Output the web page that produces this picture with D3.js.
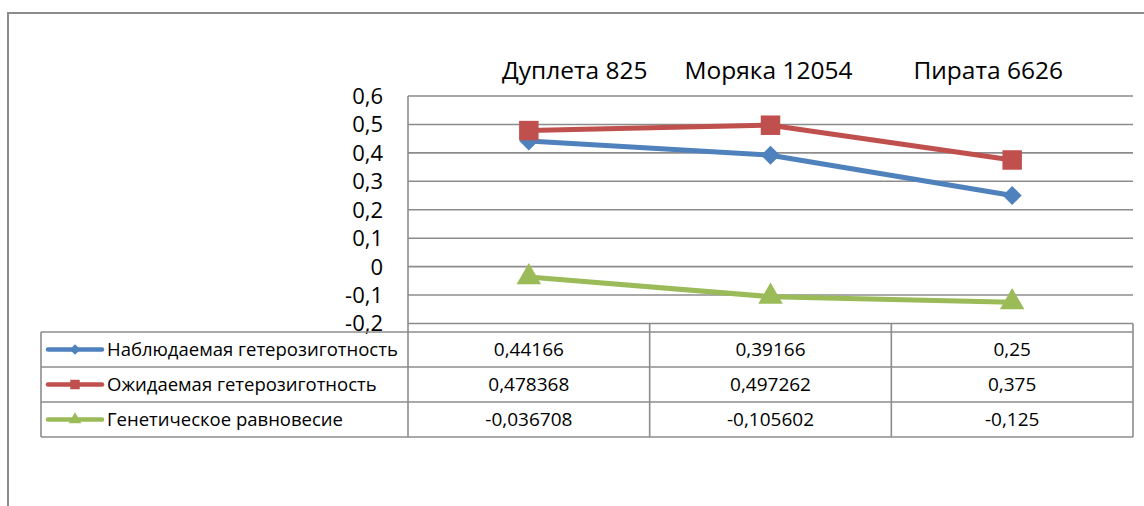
<!DOCTYPE html>
<html lang="ru">
<head>
<meta charset="UTF-8">
<title>Гетерозиготность</title>
<script src="https://cdnjs.cloudflare.com/ajax/libs/d3/7.8.5/d3.min.js"></script>
<style>
    body { margin: 0; background: #fff; overflow: hidden; }
    svg { display: block; font-family: "Open Sans", "Noto Sans", sans-serif; }
</style>
</head>
<body>
<div id="chart"></div>
<script>
    // данные
    const categories = ["Дуплета 825", "Моряка 12054", "Пирата 6626"];
    const seriesNames = ["Наблюдаемая гетерозиготность", "Ожидаемая гетерозиготность", "Генетическое равновесие"];
    const observed = [0.44166, 0.39166, 0.25];
    const expected = [0.478368, 0.497262, 0.375];
    const equilibrium = [-0.036708, -0.105602, -0.125];
    const tableLabels = [
        ["0,44166", "0,39166", "0,25"],
        ["0,478368", "0,497262", "0,375"],
        ["-0,036708", "-0,105602", "-0,125"]
    ];
    const yTicks = [0.6, 0.5, 0.4, 0.3, 0.2, 0.1, 0, -0.1, -0.2];

    const width = 1144, height = 506;
    const colors = ["#4F81BD", "#C0504D", "#9BBB59"];
    const shapes = [d3.symbolDiamond2, d3.symbolSquare, d3.symbolTriangle];
    const series = [observed, expected, equilibrium];

    const plot = { left: 408, right: 1133, top: 96, bottom: 323.5 };
    const table = { left: 41, top: 332, rowH: 35 };

    const svg = d3.select("#chart").append("svg")
        .attr("width", width).attr("height", height);

    // рамка области диаграммы
    svg.append("path")
        .attr("d", `M8,${height} L8,13 L${width},13`)
        .attr("fill", "none").attr("stroke", "#8c8c8c").attr("stroke-width", 2);

    const x = d3.scaleBand().domain(categories).range([plot.left, plot.right]);
    const y = d3.scaleLinear().domain([-0.2, 0.6]).range([plot.bottom, plot.top]);

    // сетка
    svg.append("g").selectAll("line").data(yTicks).join("line")
        .attr("x1", plot.left).attr("x2", plot.right)
        .attr("y1", d => y(d)).attr("y2", d => y(d))
        .attr("stroke", "#8c8c8c").attr("stroke-width", 1.6);

    // подписи оси Y
    const fmt = d => d3.format(".1~f")(d).replace(".", ",").replace("−", "-");
    svg.append("g").selectAll("text").data(yTicks).join("text")
        .attr("x", 383).attr("y", d => y(d))
        .attr("dy", "0.36em")
        .attr("text-anchor", "end")
        .attr("font-size", 22)
        .attr("fill", "#000")
        .text(d => fmt(d));

    // подписи категорий сверху
    const labelShift = [46, -2, -24];
    svg.append("g").selectAll("text").data(categories).join("text")
        .attr("x", (d, i) => x(d) + x.bandwidth() / 2 + labelShift[i])
        .attr("y", 79)
        .attr("text-anchor", "middle")
        .attr("font-size", 24.5)
        .attr("fill", "#000")
        .text(d => d);

    // таблица данных
    const tableBottom = table.top + table.rowH * 3;
    const tg = svg.append("g").attr("stroke", "#8c8c8c").attr("stroke-width", 1.6);
    // ось Y до низа таблицы
    tg.append("line").attr("x1", plot.left).attr("x2", plot.left)
        .attr("y1", plot.top).attr("y2", tableBottom);
    [0, 1, 2, 3].forEach(r => {
        tg.append("line")
            .attr("x1", table.left).attr("x2", plot.right)
            .attr("y1", table.top + r * table.rowH).attr("y2", table.top + r * table.rowH);
    });
    tg.append("line").attr("x1", table.left).attr("x2", table.left)
        .attr("y1", table.top).attr("y2", tableBottom);
    categories.forEach(c => {
        tg.append("line").attr("x1", x(c) + x.bandwidth()).attr("x2", x(c) + x.bandwidth())
            .attr("y1", plot.bottom).attr("y2", tableBottom);
    });

    // легенда в таблице
    seriesNames.forEach((name, i) => {
        const cy = table.top + table.rowH * (i + 0.5);
        svg.append("line").attr("x1", 48).attr("x2", 102)
            .attr("y1", cy).attr("y2", cy)
            .attr("stroke", colors[i]).attr("stroke-width", 4.5)
            .attr("stroke-linecap", "round");
        svg.append("path")
            .attr("d", d3.symbol().type(shapes[i]).size(i === 1 ? 90 : 70)())
            .attr("transform", `translate(75,${cy})`)
            .attr("fill", colors[i]);
        svg.append("text").attr("x", 107).attr("y", cy).attr("dy", "0.36em")
            .attr("font-size", 18.5).attr("fill", "#000").text(name);
        categories.forEach((c, j) => {
            svg.append("text").attr("x", x(c) + x.bandwidth() / 2).attr("y", cy).attr("dy", "0.36em")
                .attr("text-anchor", "middle").attr("font-size", 19).attr("fill", "#000")
                .text(tableLabels[i][j]);
        });
    });

    // линии серий
    const line = d3.line()
        .x((d, i) => x(categories[i]) + x.bandwidth() / 2)
        .y(d => y(d));

    series.forEach((vals, i) => {
        svg.append("path").datum(vals)
            .attr("d", line)
            .attr("fill", "none")
            .attr("stroke", colors[i])
            .attr("stroke-width", 5)
            .attr("stroke-linejoin", "round");
        svg.append("g").selectAll("path").data(vals).join("path")
            .attr("d", d3.symbol().type(shapes[i]).size(i === 0 ? 230 : (i === 1 ? 380 : 260)))
            .attr("transform", (d, k) => `translate(${x(categories[k]) + x.bandwidth() / 2},${y(d)})`)
            .attr("fill", colors[i]);
    });
</script>
</body>
</html>
